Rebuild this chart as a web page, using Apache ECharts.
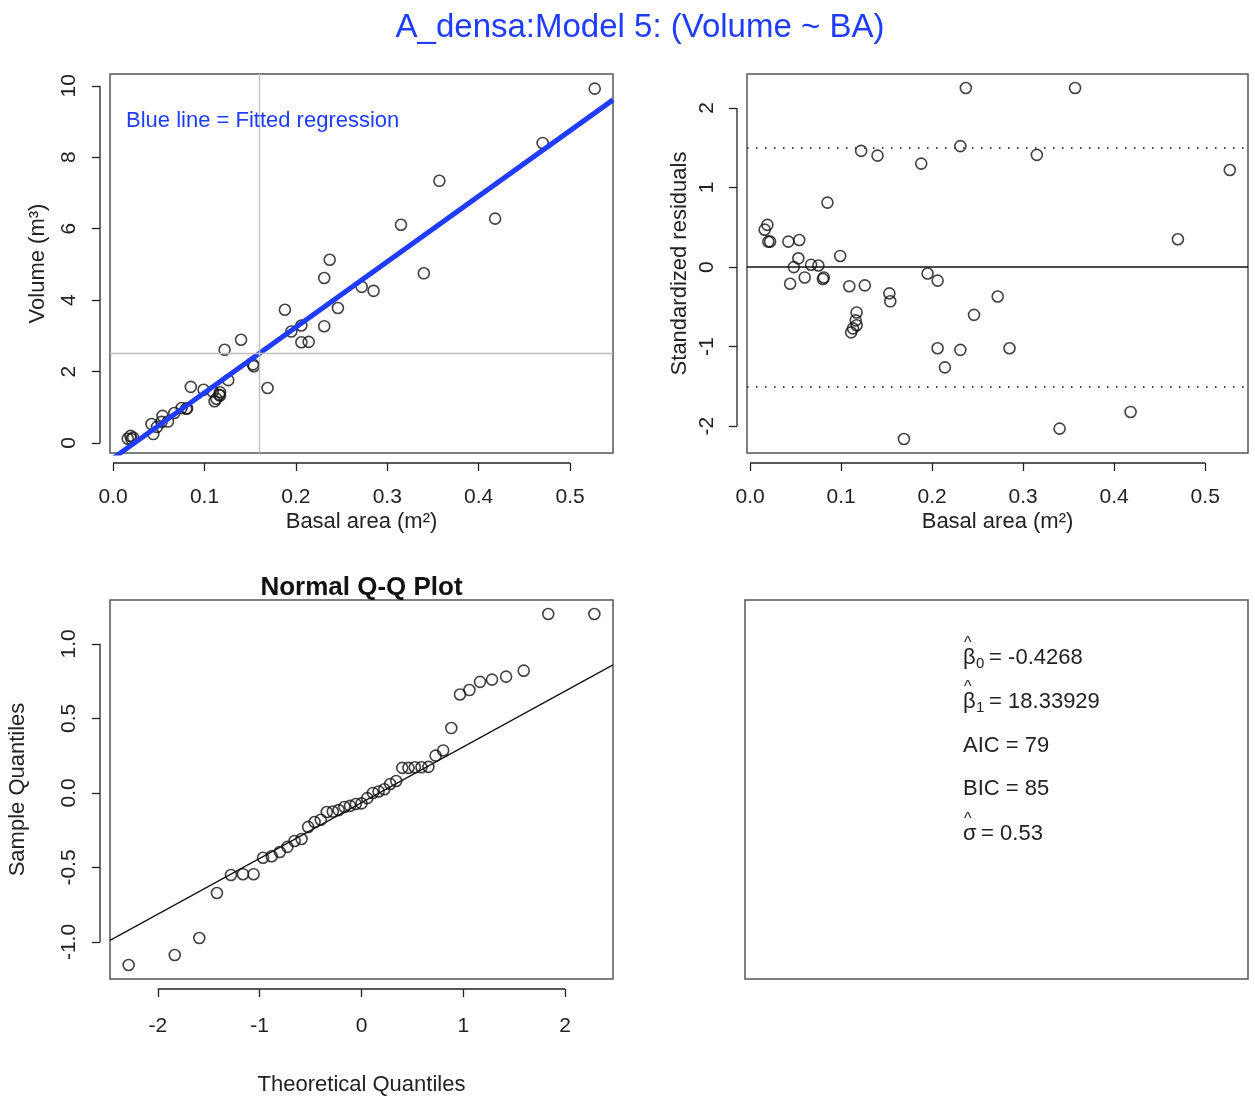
<!DOCTYPE html>
<html><head><meta charset="utf-8">
<script src="https://cdn.jsdelivr.net/npm/echarts@6/dist/echarts.min.js"></script>
<style>html,body{margin:0;padding:0;background:#fff}#c{width:1255px;height:1097px}</style>
</head><body><div id="c"></div>
<script>
const FONT = '"Liberation Sans", Arial, Helvetica, sans-serif';
const BLUE = '#1f3cff';
const INK = '#222';

// ---- data ----
const BA = [0.237, 0.357, 0.122, 0.140, 0.188, 0.231, 0.315, 0.527, 0.085, 0.019, 0.016, 0.020, 0.022, 0.042, 0.054, 0.470, 0.053, 0.048, 0.067, 0.075, 0.099, 0.060, 0.044, 0.080, 0.081, 0.109, 0.126, 0.153, 0.154, 0.195, 0.206, 0.272, 0.246, 0.117, 0.116, 0.117, 0.111, 0.113, 0.206, 0.231, 0.285, 0.214, 0.169, 0.340, 0.418];
const volume = [5.13, 7.34, 2.61, 2.89, 3.73, 4.62, 6.11, 9.92, 1.57, 0.20, 0.12, 0.11, 0.15, 0.53, 0.76, 8.40, 0.59, 0.45, 0.84, 0.98, 1.49, 0.60, 0.25, 0.96, 0.97, 1.44, 1.76, 2.20, 2.15, 3.12, 3.29, 4.37, 3.78, 1.42, 1.35, 1.33, 1.17, 1.24, 2.82, 3.27, 4.26, 2.83, 1.54, 4.75, 6.28];
const stdResid = [2.25, 2.25, 1.46, 1.40, 1.30, 1.52, 1.41, 1.22, 0.81, 0.53, 0.47, 0.32, 0.32, 0.32, 0.34, 0.35, 0.11, 0.00, 0.03, 0.02, 0.14, -0.13, -0.21, -0.15, -0.13, -0.24, -0.23, -0.33, -0.43, -0.08, -0.17, -0.37, -0.60, -0.57, -0.67, -0.73, -0.82, -0.77, -1.02, -1.04, -1.02, -1.26, -2.16, -2.03, -1.82];
const qqTheoretical = [-2.287, -1.834, -1.593, -1.420, -1.282, -1.164, -1.060, -0.967, -0.882, -0.802, -0.728, -0.657, -0.589, -0.524, -0.461, -0.400, -0.341, -0.282, -0.224, -0.168, -0.112, -0.056, 0, 0.056, 0.112, 0.168, 0.224, 0.282, 0.341, 0.400, 0.461, 0.524, 0.589, 0.657, 0.728, 0.802, 0.882, 0.967, 1.060, 1.164, 1.282, 1.420, 1.593, 1.834, 2.287];
const qqSample = [-1.154, -1.087, -0.973, -0.671, -0.550, -0.545, -0.545, -0.435, -0.425, -0.396, -0.362, -0.322, -0.309, -0.228, -0.195, -0.180, -0.128, -0.125, -0.115, -0.094, -0.087, -0.074, -0.070, -0.035, 0.000, 0.010, 0.025, 0.060, 0.080, 0.168, 0.168, 0.172, 0.172, 0.175, 0.250, 0.285, 0.435, 0.660, 0.690, 0.745, 0.760, 0.780, 0.820, 1.200, 1.200];

const baTicks = [0, 0.1, 0.2, 0.3, 0.4, 0.5];
const volTicks = [0, 2, 4, 6, 8, 10];
const residTicks = [-2, -1, 0, 1, 2];
const qqxTicks = [-2, -1, 0, 1, 2];
const qqyTicks = [-1, -0.5, 0, 0.5, 1];

const b0 = -0.4268, b1 = 18.33929, AIC = 79, BIC = 85, sigmaHat = 0.53;
const meanBA = 0.161, meanVolume = 2.52;
const residBand = 1.5;
const qqLineIntercept = -0.065, qqLineSlope = 0.374;

// axis ranges
const baRange = [-0.0034, 0.547];
const volRange = [-0.28, 10.33];
const residRange = [-2.336, 2.426];
const qqxRange = [-2.47, 2.47];
const qqyRange = [-1.248, 1.294];

function xAx(gi, range, ticks, fmt, name, nameGap, margin) {
  return {
    type: 'value', gridIndex: gi, min: range[0], max: range[1], position: 'bottom', offset: 10,
    axisLine: {show: false, onZero: false},
    axisTick: {show: true, length: 8, customValues: ticks, lineStyle: {color: INK, width: 1.3}},
    axisLabel: {show: true, customValues: ticks, margin: margin, formatter: fmt, fontSize: 21, color: INK, fontFamily: FONT},
    splitLine: {show: false},
    name: name, nameLocation: 'middle', nameGap: nameGap,
    nameTextStyle: {fontSize: 22, color: INK, fontFamily: FONT}
  };
}
function yAx(gi, range, ticks, fmt, name, nameGap, margin) {
  return {
    type: 'value', gridIndex: gi, min: range[0], max: range[1], position: 'left', offset: 10,
    axisLine: {show: false, onZero: false},
    axisTick: {show: true, length: 8, customValues: ticks, lineStyle: {color: INK, width: 1.3}},
    axisLabel: {show: true, customValues: ticks, margin: margin, rotate: 90, formatter: fmt, fontSize: 21, color: INK, fontFamily: FONT},
    splitLine: {show: false},
    name: name, nameLocation: 'middle', nameGap: nameGap, nameRotate: 90,
    nameTextStyle: {fontSize: 22, color: INK, fontFamily: FONT}
  };
}
const f1 = v => v.toFixed(1);
const f0 = v => String(Math.round(v));

const pointStyle = {color: 'rgba(0,0,0,0)', borderColor: '#111', borderWidth: 1.6};

const gridBase = {show: true, borderColor: '#555', borderWidth: 1.5, backgroundColor: '#fff', containLabel: false};

const option = {
  animation: false,
  backgroundColor: '#fff',
  grid: [
    Object.assign({left: 110, top: 74, width: 503, height: 379}, gridBase),
    Object.assign({left: 747, top: 74, width: 501, height: 379}, gridBase),
    Object.assign({left: 110, top: 600, width: 503, height: 379}, gridBase)
  ],
  xAxis: [
    xAx(0, baRange, baTicks, f1, 'Basal area (m²)', 48, 24),
    xAx(1, baRange, baTicks, f1, 'Basal area (m²)', 48, 24),
    xAx(2, qqxRange, qqxTicks, f0, 'Theoretical Quantiles', 85, 27)
  ],
  yAxis: [
    yAx(0, volRange, volTicks, f0, 'Volume (m³)', 51, 20),
    yAx(1, residRange, residTicks, f0, 'Standardized residuals', 46, 19),
    yAx(2, qqyRange, qqyTicks, f1, 'Sample Quantiles', 71, 20)
  ],
  series: [
    {
      type: 'scatter', xAxisIndex: 0, yAxisIndex: 0, symbol: 'circle', symbolSize: 11,
      itemStyle: pointStyle, z: 2,
      data: BA.map((b, i) => [b, volume[i]]),
      markLine: {
        silent: true, symbol: 'none', label: {show: false},
        lineStyle: {color: '#bdbdbd', width: 1.3, type: 'solid'},
        data: [{xAxis: meanBA}, {yAxis: meanVolume}]
      }
    },
    {
      type: 'line', xAxisIndex: 0, yAxisIndex: 0, symbol: 'none', clip: true, z: 4,
      lineStyle: {color: BLUE, width: 5},
      data: [[baRange[0], b0 + b1 * baRange[0]], [baRange[1], b0 + b1 * baRange[1]]]
    },
    {
      type: 'scatter', xAxisIndex: 1, yAxisIndex: 1, symbol: 'circle', symbolSize: 11,
      itemStyle: pointStyle, z: 3,
      data: BA.map((b, i) => [b, stdResid[i]]),
      markLine: {
        silent: true, symbol: 'none', label: {show: false},
        data: [
          {yAxis: 0, lineStyle: {color: '#111', width: 1.5, type: 'solid'}},
          {yAxis: residBand, lineStyle: {color: '#444', width: 1.8, type: [1.5, 7.5]}},
          {yAxis: -residBand, lineStyle: {color: '#444', width: 1.8, type: [1.5, 7.5]}}
        ]
      }
    },
    {
      type: 'scatter', xAxisIndex: 2, yAxisIndex: 2, symbol: 'circle', symbolSize: 11,
      itemStyle: pointStyle, z: 3,
      data: qqTheoretical.map((t, i) => [t, qqSample[i]])
    },
    {
      type: 'line', xAxisIndex: 2, yAxisIndex: 2, symbol: 'none', clip: true, z: 2,
      lineStyle: {color: '#111', width: 1.2},
      data: [[qqxRange[0], qqLineIntercept + qqLineSlope * qqxRange[0]], [qqxRange[1], qqLineIntercept + qqLineSlope * qqxRange[1]]]
    }
  ]
};

const chart = echarts.init(document.getElementById('c'), null, {renderer: 'canvas'});
chart.setOption(option);

function px(gi, xy) { return chart.convertToPixel({xAxisIndex: gi, yAxisIndex: gi}, xy); }
function line(x1, y1, x2, y2, w, c) {
  return {type: 'line', silent: true, z: 10, shape: {x1, y1, x2, y2}, style: {stroke: c || INK, lineWidth: w || 1.3}};
}
function txt(x, y, text, size, opts) {
  opts = opts || {};
  return {type: 'text', silent: true, z: 10, x: x, y: y,
    style: Object.assign({text: text, fontSize: size, fontFamily: FONT, fill: INK,
      textAlign: 'left', align: 'left', textVerticalAlign: 'middle', verticalAlign: 'middle'}, opts)};
}

const g = [];
// R-style axis lines spanning first..last tick
const axesDef = [
  [0, baTicks, volTicks, baRange, volRange],
  [1, baTicks, residTicks, baRange, residRange],
  [2, qqxTicks, qqyTicks, qqxRange, qqyRange]
];
axesDef.forEach(([gi, xt, yt, xr, yr]) => {
  const a = px(gi, [xt[0], yr[0]]), b = px(gi, [xt[xt.length - 1], yr[0]]);
  g.push(line(a[0], a[1] + 10, b[0], b[1] + 10));
  const c = px(gi, [xr[0], yt[0]]), d = px(gi, [xr[0], yt[yt.length - 1]]);
  g.push(line(c[0] - 10, c[1], d[0] - 10, d[1]));
});

// Main title
g.push(txt(640, 28, 'A_densa:Model 5: (Volume ~ BA)', 33, {fill: BLUE, textAlign: 'center', align: 'center'}));
// Legend note
g.push(txt(126, 121, 'Blue line = Fitted regression', 22, {fill: BLUE}));
// QQ title
g.push(txt(361.5, 588, 'Normal Q-Q Plot', 26, {fontWeight: 'bold', textAlign: 'center', align: 'center', fill: '#111'}));

// Stats box
g.push({type: 'rect', silent: true, z: 9, shape: {x: 745, y: 600, width: 503, height: 379},
  style: {fill: '#fff', stroke: '#555', lineWidth: 1.5}});
const sx = 963;
const hatRows = [
  {y: 658, sym: 'β', sub: '0', val: ' = ' + b0},
  {y: 702, sym: 'β', sub: '1', val: ' = ' + b1}
];
hatRows.forEach(r => {
  g.push(txt(sx, r.y, r.sym, 22));
  g.push(txt(sx + 1, r.y - 14, '^', 16));
  g.push(txt(sx + 13, r.y + 6, r.sub, 15));
  g.push(txt(sx + 20, r.y, r.val, 22));
});
g.push(txt(sx, 746, 'AIC = ' + AIC, 22));
g.push(txt(sx, 789, 'BIC = ' + BIC, 22));
g.push(txt(sx, 834, 'σ', 22));
g.push(txt(sx + 1, 820, '^', 16));
g.push(txt(sx + 12, 834, ' = ' + sigmaHat, 22));

chart.setOption({graphic: {elements: g}});
</script></body></html>
